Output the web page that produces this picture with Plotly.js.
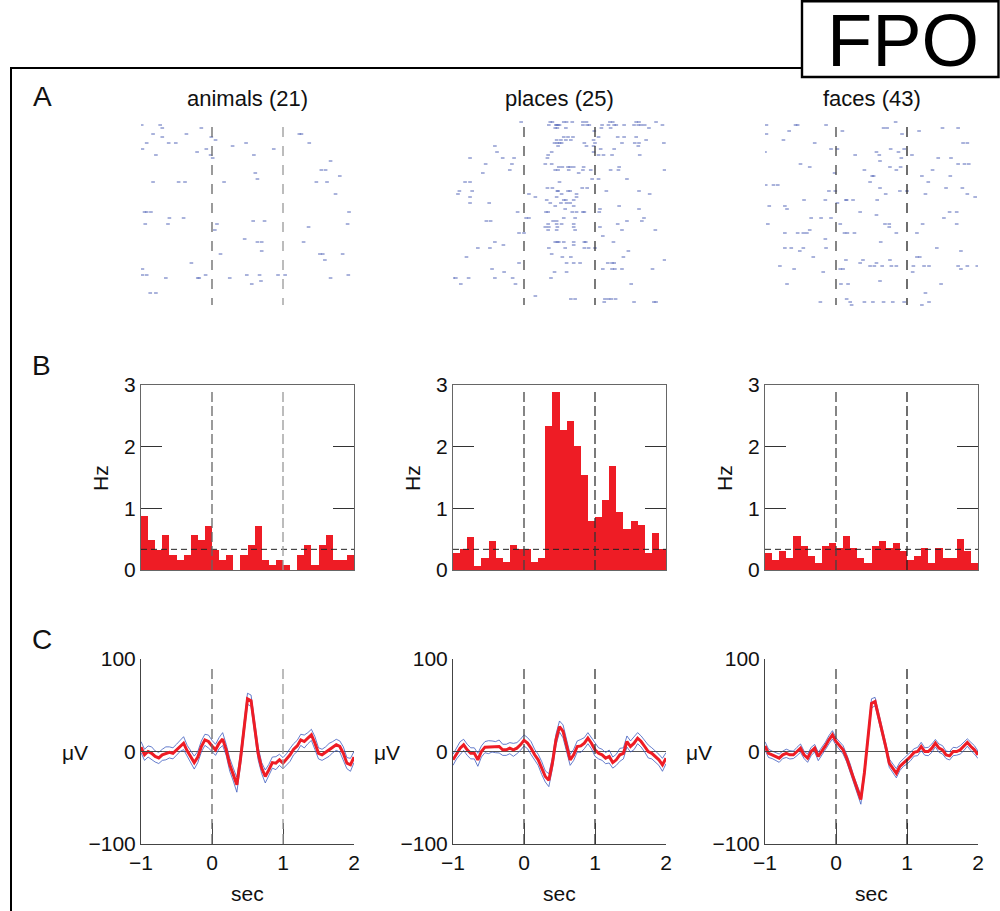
<!DOCTYPE html>
<html><head><meta charset="utf-8">
<script src="https://cdn.plot.ly/plotly-3.0.1.min.js"></script>
<style>html,body{margin:0;padding:0;background:#fff}#chart{width:1000px;height:911px}</style>
</head><body><div id="chart"></div>
<script>
// ---------------- DATA ----------------
const conditionTitles = ['animals (21)', 'places (25)', 'faces (43)'];
const panelLetters = ['A', 'B', 'C'];

// Raster (A): trial index and spike times (s) per trial
const animalsTrials = [5,6,8,9,10,11,12,13,14,15,16,17,20,21,22,23,24,28,34,36,37,38,39,40,43,44,47,48,50,51,53,55,56,57,58,61];
const animalsSpikeTimes = [
 [-0.99,-0.73],[-0.70,-0.15],[-0.83,-0.36,1.23,1.26],[-0.70,-0.01],[0.05],[-0.92,-0.61,-0.51,0.48,1.37],
 [0.29],[-0.98,-0.08,0.87],[-0.21],[-0.79,-0.02,0.59],[0.01],[1.67],[1.54,1.60],[0.61],[1.80],[0.64],
 [-0.83,-0.47,-0.38,0.17,1.47,1.62],[1.74],[-0.95,-0.92,-0.86,1.93],[-0.60,-0.40],[0.58,0.74],
 [-0.94,-0.62,0.07,1.91],[1.36],[0.04],[0.46],[0.64,0.70,1.29],[0.70],[0.12,1.52,1.56,1.84],[1.59],
 [-0.29],[-0.98],[-0.98,-0.92,-0.09,0.49,0.67,0.93,1.03,1.92],[-0.65,-0.20,-0.18,0.25,1.67],[0.69],[0.56],[-0.87,-0.79]
];
const placesTrials = [4,5,6,7,9,10,11,12,13,14,15,16,18,19,20,21,23,24,26,27,28,29,30,31,32,33,34,36,37,38,39,40,41,42,44,45,46,47,48,49,50,51,53,54,56,58,62,63,64];
const placesSpikeTimes = [
 [-0.04,0.37,0.40,0.56,0.60,0.68,0.83,0.88,1.21,1.25,1.58,1.62,1.86],
 [0.35,0.45,0.46,0.48,0.50,0.83,0.89,0.92,1.10,1.19,1.27,1.30,1.41,1.55,1.61,1.65,1.70,1.95],
 [0.44,0.47,0.59,1.09,1.22,1.76],
 [0.99],
 [0.56,0.62,0.69,1.05,1.32,1.41,1.58],
 [0.46,0.52,0.59,0.66,0.98,1.72],
 [0.43,0.47,0.50,0.53,0.85,1.00,1.38,1.56,1.62,1.97],
 [-0.41,0.48,0.88,0.98,1.61],
 [1.08,1.27],
 [-0.38,0.39,0.98],
 [0.34,1.05,1.12,1.24,1.63],
 [-0.76,-0.30,-0.14,0.33],
 [-0.54,-0.17,0.30,0.39],
 [0.49,0.54,0.62,0.65,0.70,0.84,1.34],
 [-0.20,0.44,0.48,0.63,0.83,0.94,1.22,1.33,1.98],
 [-0.58,0.77],
 [0.96,1.05,1.45],
 [-0.83,-0.76,0.50],
 [0.33,0.40,0.82,0.89],
 [-0.91,-0.73,0.47,0.48,0.62,0.65,1.16,1.62],
 [-0.93,0.07,0.53,0.74,1.77],
 [-0.76,0.16,0.46,0.74],
 [0.32,0.56,0.59,0.70],
 [-0.76,-0.49,0.37,0.52,0.60,0.65],
 [0.44,0.70,1.34],
 [0.58,1.07,1.62],
 [-0.09,0.31,0.34,0.68,0.74,0.83,0.85,1.06],
 [0.03,0.07,0.56,0.72,1.69],
 [-0.53,-0.47,0.41,0.46,1.45,1.66],
 [0.34,0.46,0.53,0.70,1.32],
 [0.30,0.35,0.47,0.70,1.07],
 [0.34,0.46,0.72,1.38,1.85],
 [-0.07,0.00],
 [1.11],
 [-0.41,0.44,0.47,0.49,0.56,0.70,0.85,0.87,1.26],
 [-0.29,0.70],
 [-0.65,-0.48,0.35,0.58,0.85,0.91,1.00],
 [1.47],
 [0.39],
 [-0.81,0.54,0.66,1.40],
 [1.98],
 [-0.07,0.60,0.70,0.79,1.18,1.24,1.27],
 [-0.45,1.11,1.24,1.28,1.38,1.81],
 [-0.28,0.43,0.60],
 [-1.00,-0.96,-0.78,-0.41,-0.16,0.38],
 [-0.89,-0.12,1.51],
 [0.16],
 [0.66,0.72,1.14,1.19,1.23,1.29],
 [1.13,1.55,1.83,1.86]
];
const facesTrials = [4,5,6,7,8,10,11,13,14,15,16,17,18,19,20,21,22,24,25,26,27,28,29,30,31,32,33,34,35,36,38,39,40,41,43,44,46,47,49,50,51,52,53,54,57,58,61,63,64,65];
const facesSpikeTimes = [
 [0.84],
 [-0.98,-0.57,-0.54,-0.14],
 [0.67,0.72,1.50,1.72],
 [-0.66,0.09,1.17],
 [-0.98,0.93],
 [-0.74],
 [-0.30,1.79,1.85],
 [-0.07,0.02,0.77,0.96],
 [-1.00,0.57,0.88],
 [0.27,0.61,1.07],
 [0.92,1.44,1.62],
 [0.62],
 [-0.50,1.72,1.81,1.87],
 [-0.37,0.76,0.91],
 [0.40,0.85,1.36],
 [-0.02],
 [0.51,0.53,1.21,1.61],
 [0.48,1.30],
 [-0.99,-0.88,-0.82],
 [0.62,1.55,1.78],
 [-0.10,-0.01,0.90,1.00],
 [0.70,1.26,1.85],
 [1.96],
 [-0.45,-0.15,0.14,0.15,0.24,0.58],
 [0.02],
 [-0.94,-0.72],
 [-0.69],
 [0.34,1.60,1.70],
 [0.57],
 [-0.35,-0.21,-0.07,1.52],
 [-0.96,0.06,0.69,0.75,1.22,1.70],
 [0.75],
 [-0.37],
 [-0.72,-0.54,-0.46,-0.41,0.12,0.16,0.26,0.85,1.14],
 [-0.15],
 [0.63],
 [-0.72,-0.63,-0.46,-0.14,1.42],
 [-0.51,1.76],
 [-0.32,1.14,1.18],
 [0.14,0.38,0.76],
 [0.34,0.57],
 [-0.79,0.48,0.54,0.65,0.78,0.85,1.09,1.24,1.31,1.72,1.85,1.99],
 [-0.59,0.06,0.10,1.76],
 [-0.18,1.08],
 [0.62],
 [-0.69,0.07,0.17,1.48],
 [1.26],
 [0.15],
 [-0.22,0.20,0.40,0.52,0.67,0.80,0.96,1.31],
 [0.22,1.21]
];

// PSTH (B): firing rate (Hz) in 100 ms bins
const binCenters = [-0.95,-0.85,-0.75,-0.65,-0.55,-0.45,-0.35,-0.25,-0.15,-0.05,0.05,0.15,0.25,0.35,0.45,0.55,0.65,0.75,0.85,0.95,1.05,1.15,1.25,1.35,1.45,1.55,1.65,1.75,1.85,1.95];
const rateAnimals = [0.88,0.48,0.32,0.56,0.24,0.16,0.24,0.56,0.48,0.72,0.32,0.16,0.24,0,0.24,0.40,0.72,0.16,0.08,0.16,0.08,0,0.24,0.40,0.08,0.40,0.56,0.16,0.16,0.24];
const ratePlaces = [0.27,0.335,0.54,0.07,0.20,0.47,0.20,0.135,0.405,0.335,0.335,0.135,0.20,2.34,2.88,2.27,2.41,2.01,1.54,0.80,0.865,1.135,1.68,0.935,0.67,0.80,0.735,0.27,0.60,0.335];
const rateFaces = [0.27,0.16,0.31,0.20,0.55,0.39,0.23,0.12,0.39,0.43,0.35,0.55,0.35,0.20,0.12,0.39,0.47,0.35,0.43,0.31,0.16,0.23,0.35,0.12,0.35,0.20,0.20,0.50,0.31,0.12];
const baselineRate = 0.335;

// LFP (C): mean (µV) and SEM
const lfpTime = [-1,-0.95,-0.9,-0.85,-0.8,-0.75,-0.7,-0.65,-0.6,-0.55,-0.5,-0.45,-0.4,-0.35,-0.3,-0.25,-0.2,-0.15,-0.1,-0.05,0,0.05,0.1,0.15,0.2,0.25,0.3,0.35,0.4,0.45,0.5,0.55,0.6,0.65,0.7,0.75,0.8,0.85,0.9,0.95,1,1.05,1.1,1.15,1.2,1.25,1.3,1.35,1.4,1.45,1.5,1.55,1.6,1.65,1.7,1.75,1.8,1.85,1.9,1.95,2];
const lfpAnimals = [4.7,-3.6,0,-2,-5.4,-7,-3.6,-2,-1,-2,1.8,6,9,0.7,-5.4,-12,-6,5.4,12.6,10.8,6,1.8,9,13.4,1.8,-14.4,-25,-36,-9,27,57,55,27,-2,-18,-27,-20,-12,-12.6,-9,-12.6,-8.3,-3.6,2.5,6,12.6,10.8,14.4,18,9,-2,-3.6,-1,1.8,4.7,7.2,5.4,-2,-12.6,-14.4,-6];
const lfpPlaces = [-9,-2,3.6,7.2,1.8,-2,-2,-9,0,4.7,4.7,5.4,4.7,5.4,1.8,1.8,3.6,1.8,3.6,7.2,12,9,3.6,-3.6,-9,-18,-27,-31,-12.6,12.6,27,21.7,5.4,-9,-3.6,5.4,6,9,14.4,9,1.8,-2,-3.6,-7.2,-5.4,-12,-9,-3.6,-2,10.8,5.4,9,14.4,10.8,5.4,0,-2,-5.4,-9,-14.4,-7.2];
const lfpFaces = [6,-2,-3.6,-5.4,-7.2,-3.6,-2,-3.6,-3.6,0,3.6,-3.6,-7.2,0,3.6,-5.4,0,6,12.6,18,10.8,6,1.8,-7.2,-18,-31,-41.5,-52,-23,16,52,54,38,23.5,5.4,-12.6,-18,-23.5,-16,-12,-9,-5.4,-1,0,5.4,0,0,3.6,9,3.6,1.8,-3.6,-4.7,0,0,1.8,5.4,9.7,5.4,1.8,-3.6];
const semAnimals = [6,6,6,7,6,6,6,7,6,6,6,6,7,6,6,7,6,6,6,7,6,6,6,7,6,7,7,8,7,7,6,6,7,7,6,7,6,6,7,6,6,6,7,6,6,6,7,6,6,7,6,6,6,7,6,6,6,7,6,7,6];
const semPlaces = [6,6,7,6,6,6,6,7,6,6,7,6,6,7,6,6,6,7,6,6,6,6,7,6,6,7,6,7,6,6,6,7,6,6,6,6,7,6,6,6,7,6,6,6,7,6,6,7,6,6,6,7,6,6,6,7,6,6,6,7,6];
const semFaces = [4.5,4.5,4,4.5,4.5,4,4.5,4.5,4,4.5,4.5,4,4.5,4.5,4,4.5,4.5,4,4.5,4.5,4,4.5,4.5,4,4.5,4.5,4.5,5,4.5,4.5,5,4.5,4.5,4.5,4,4.5,4.5,5,4.5,4,4.5,4.5,4,4.5,4.5,4,4.5,4.5,4,4.5,4.5,4,4.5,4.5,4,4.5,4.5,4,4.5,4.5,4];

const lfpTicks = [-1, 0, 1, 2];
const lfpTickText = ['\u22121', '0', '1', '2'];
const uvTicks = [-100, 0, 100];
const uvTickText = ['\u2212100', '0', '100'];

// ---------------- LAYOUT ----------------
const W = 1000, H = 911;
const px = v => v / W;
const py = v => 1 - v / H;
const FONT = 'Liberation Sans, Arial, Helvetica, sans-serif';

const colPx = [[141, 354], [453, 666], [765, 978]];
const rasterRowPx = [110, 308];
const histRowPx = [385, 570];
const lfpRowPx = [659, 844];

const panels = [
  {trials: animalsTrials, spikes: animalsSpikeTimes, rate: rateAnimals, lfp: lfpAnimals, sem: semAnimals, dash0: '#666', dash1: '#999'},
  {trials: placesTrials, spikes: placesSpikeTimes, rate: ratePlaces, lfp: lfpPlaces, sem: semPlaces, dash0: '#444', dash1: '#333'},
  {trials: facesTrials, spikes: facesSpikeTimes, rate: rateFaces, lfp: lfpFaces, sem: semFaces, dash0: '#444', dash1: '#222'}
];

const data = [];
const layout = {
  width: W, height: H,
  margin: {l: 0, r: 0, t: 0, b: 0},
  paper_bgcolor: '#fff', plot_bgcolor: 'rgba(0,0,0,0)',
  showlegend: false, bargap: 0,
  font: {family: FONT, size: 21, color: '#111'},
  shapes: [], annotations: []
};

panels.forEach((p, i) => {
  const xd = [px(colPx[i][0]), px(colPx[i][1])];
  const ra = i + 1, ha = i + 4, la = i + 7;
  const axn = n => (n === 1 ? '' : String(n));

  // Raster axes
  layout['xaxis' + axn(ra)] = {domain: xd, range: [-1, 2], visible: false, anchor: 'y' + axn(ra), fixedrange: true};
  layout['yaxis' + axn(ra)] = {domain: [py(rasterRowPx[1]), py(rasterRowPx[0])], range: [66, 0], visible: false, anchor: 'x' + axn(ra), fixedrange: true};
  const rx = [], ry = [];
  p.trials.forEach((tr, j) => p.spikes[j].forEach(t => { rx.push(t); ry.push(tr); }));
  data.push({type: 'scatter', mode: 'markers', x: rx, y: ry, xaxis: 'x' + axn(ra), yaxis: 'y' + axn(ra),
    marker: {symbol: 'line-ew', size: 2.6, line: {width: 1, color: '#5466b8'}}, hoverinfo: 'skip'});
  layout.shapes.push({type: 'line', xref: 'x' + axn(ra), yref: 'y' + axn(ra), x0: 0, x1: 0, y0: 5.7, y1: 65,
    line: {color: p.dash0, width: 1.3, dash: '10px,9px'}});
  layout.shapes.push({type: 'line', xref: 'x' + axn(ra), yref: 'y' + axn(ra), x0: 1, x1: 1, y0: 5.7, y1: 65,
    line: {color: p.dash1, width: 1.3, dash: '10px,9px'}});

  // Histogram axes
  layout['xaxis' + axn(ha)] = {domain: xd, range: [-1, 2], showticklabels: false, ticks: '', showline: true, mirror: true,
    linecolor: '#666', linewidth: 1, showgrid: false, zeroline: false, anchor: 'y' + axn(ha), fixedrange: true};
  layout['yaxis' + axn(ha)] = {domain: [py(histRowPx[1]), py(histRowPx[0])], range: [0, 3], tickvals: [0, 1, 2, 3],
    ticks: 'inside', ticklen: 21, tickwidth: 1, tickcolor: '#333', mirror: 'ticks', showline: true, linecolor: '#666', linewidth: 1,
    showgrid: false, zeroline: false, tickfont: {size: 21, family: FONT, color: '#111'}, anchor: 'x' + axn(ha), fixedrange: true};
  data.push({type: 'bar', x: binCenters, y: p.rate, width: 0.1, xaxis: 'x' + axn(ha), yaxis: 'y' + axn(ha),
    marker: {color: '#ee1c25', line: {width: 0}}, hoverinfo: 'skip'});
  layout.shapes.push({type: 'line', xref: 'x' + axn(ha), yref: 'y' + axn(ha), x0: -1, x1: 2, y0: baselineRate, y1: baselineRate,
    line: {color: '#222', width: 1, dash: '6px,4px'}});
  layout.shapes.push({type: 'line', xref: 'x' + axn(ha), yref: 'y' + axn(ha), x0: 0, x1: 0, y0: 0, y1: 2.89,
    line: {color: p.dash0, width: 1.3, dash: '10px,4px'}});
  layout.shapes.push({type: 'line', xref: 'x' + axn(ha), yref: 'y' + axn(ha), x0: 1, x1: 1, y0: 0, y1: 2.89,
    line: {color: p.dash1, width: 1.3, dash: '10px,4px'}});

  // LFP axes
  layout['xaxis' + axn(la)] = {domain: xd, range: [-1, 2], tickvals: lfpTicks, ticktext: lfpTickText, ticks: 'inside',
    ticklen: 21, tickwidth: 1, tickcolor: '#444', showline: true, linecolor: '#444', linewidth: 1, showgrid: false,
    zeroline: false, tickfont: {size: 21, family: FONT, color: '#111'}, anchor: 'y' + axn(la), fixedrange: true};
  layout['yaxis' + axn(la)] = {domain: [py(lfpRowPx[1]), py(lfpRowPx[0])], range: [-100, 100], tickvals: uvTicks,
    ticktext: uvTickText, ticks: 'inside', ticklen: 21, tickwidth: 1, tickcolor: '#444', showline: true, linecolor: '#444',
    linewidth: 1, showgrid: false, zeroline: true, zerolinecolor: '#555', zerolinewidth: 1.4,
    tickfont: {size: 21, family: FONT, color: '#111'}, anchor: 'x' + axn(la), fixedrange: true};
  layout.shapes.push({type: 'line', xref: 'x' + axn(la), yref: 'y' + axn(la), x0: 0, x1: 0, y0: -100, y1: 92,
    line: {color: p.dash0, width: 1.3, dash: '10px,5px'}});
  layout.shapes.push({type: 'line', xref: 'x' + axn(la), yref: 'y' + axn(la), x0: 1, x1: 1, y0: -100, y1: 92,
    line: {color: p.dash1, width: 1.3, dash: '10px,5px'}});
  const upper = p.lfp.map((v, k) => v + p.sem[k]);
  const lower = p.lfp.map((v, k) => v - p.sem[k]);
  [upper, lower].forEach(arr => data.push({type: 'scatter', mode: 'lines', x: lfpTime, y: arr,
    xaxis: 'x' + axn(la), yaxis: 'y' + axn(la), line: {color: '#3d5cbf', width: 0.8}, hoverinfo: 'skip'}));
  data.push({type: 'scatter', mode: 'lines', x: lfpTime, y: p.lfp, xaxis: 'x' + axn(la), yaxis: 'y' + axn(la),
    line: {color: '#ee1c25', width: 3}, hoverinfo: 'skip'});

  // Text
  const cx = px((colPx[i][0] + colPx[i][1]) / 2);
  layout.annotations.push({text: conditionTitles[i], xref: 'paper', yref: 'paper', x: cx, y: py(98),
    xanchor: 'center', yanchor: 'middle', showarrow: false, font: {size: 22, family: FONT, color: '#111'}});
  layout.annotations.push({text: 'Hz', xref: 'paper', yref: 'paper', x: px(colPx[i][0] - 41), y: py(478),
    xanchor: 'center', yanchor: 'middle', textangle: -90, showarrow: false, font: {size: 21, family: FONT, color: '#111'}});
  layout.annotations.push({text: '\u03bcV', xref: 'paper', yref: 'paper', x: px(colPx[i][0] - 66), y: py(752),
    xanchor: 'center', yanchor: 'middle', showarrow: false, font: {size: 21, family: FONT, color: '#111'}});
  layout.annotations.push({text: 'sec', xref: 'paper', yref: 'paper', x: cx, y: py(893),
    xanchor: 'center', yanchor: 'middle', showarrow: false, font: {size: 21, family: FONT, color: '#111'}});
});

// Panel letters
[[42, 96], [41, 365], [42, 639]].forEach((pos, k) => layout.annotations.push({text: panelLetters[k], xref: 'paper', yref: 'paper',
  x: px(pos[0]), y: py(pos[1]), xanchor: 'center', yanchor: 'middle', showarrow: false, font: {size: 28, family: FONT, color: '#111'}}));

// FPO box and outer frame
layout.shapes.push({type: 'line', xref: 'paper', yref: 'paper', x0: px(10), x1: px(802), y0: py(68), y1: py(68), line: {color: '#000', width: 2}});
layout.shapes.push({type: 'line', xref: 'paper', yref: 'paper', x0: px(11), x1: px(11), y0: py(68), y1: 0, line: {color: '#000', width: 2}});
layout.shapes.push({type: 'rect', xref: 'paper', yref: 'paper', x0: px(802), x1: px(998.5), y0: py(77), y1: py(1.2), line: {color: '#000', width: 2.4}, fillcolor: 'rgba(0,0,0,0)'});
layout.annotations.push({text: 'FPO', xref: 'paper', yref: 'paper', x: px(903), y: py(40), xanchor: 'center', yanchor: 'middle',
  showarrow: false, font: {size: 74, family: FONT, color: '#000'}});

Plotly.newPlot('chart', data, layout, {staticPlot: true, displayModeBar: false});
</script>
</body></html>
